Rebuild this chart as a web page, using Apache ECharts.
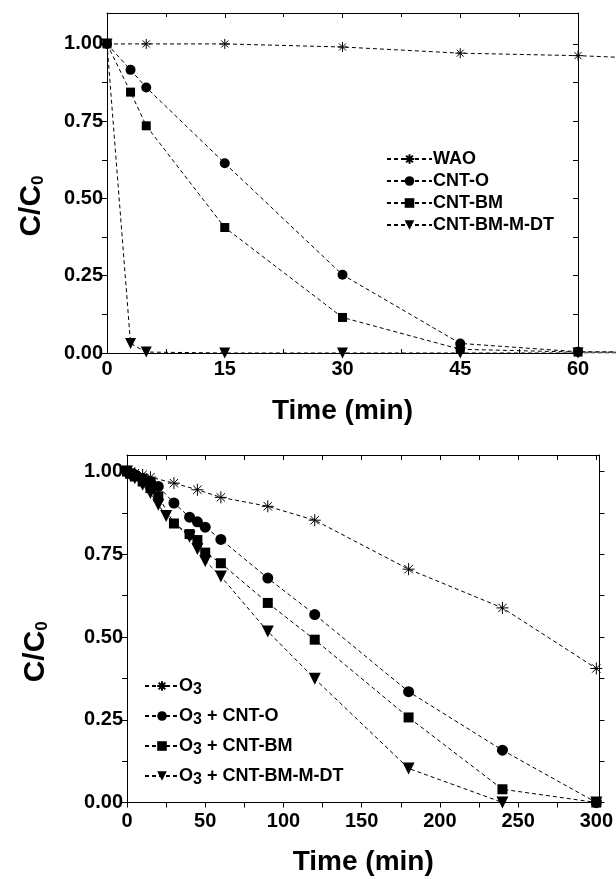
<!DOCTYPE html>
<html><head><meta charset="utf-8">
<script src="https://cdn.jsdelivr.net/npm/echarts@6/dist/echarts.min.js"></script>
<style>html,body{margin:0;padding:0;background:#fff}#c{width:616px;height:879px}</style>
</head><body><div id="c"></div>
<script>
// ---- Top panel (WAO vs catalysts) ----
const topNames = ['WAO', 'CNT-O', 'CNT-BM', 'CNT-BM-M-DT'];
const waoT  = [0, 5, 15, 30, 45, 60, 120];
const waoV  = [1.00, 1.00, 1.00, 0.99, 0.97, 0.962, 0.90];
const cntOT = [0, 3, 5, 15, 30, 45, 60, 120];
const cntOV = [1.00, 0.916, 0.859, 0.614, 0.253, 0.031, 0.004, 0.0];
const cntBMT = [0, 3, 5, 15, 30, 45, 60, 120];
const cntBMV = [1.00, 0.844, 0.735, 0.406, 0.115, 0.012, 0.003, 0.0];
const dtT = [0, 3, 5, 15, 30, 45, 60, 120];
const dtV = [1.00, 0.031, 0.003, 0.0, 0.0, 0.0, 0.0, 0.0];

// ---- Bottom panel (ozonation) ----
const botNames = ['O3', 'O3 + CNT-O', 'O3 + CNT-BM', 'O3 + CNT-BM-M-DT'];
const o3T = [0, 2, 5, 10, 15, 30, 45, 60, 90, 120, 180, 240, 300];
const o3V = [1.00, 0.998, 0.995, 0.99, 0.983, 0.965, 0.945, 0.922, 0.895, 0.853, 0.705, 0.588, 0.405];
const o3OT = [0, 2, 5, 10, 15, 20, 30, 40, 45, 50, 60, 90, 120, 180, 240, 300];
const o3OV = [1.00, 0.995, 0.99, 0.98, 0.97, 0.955, 0.905, 0.862, 0.848, 0.832, 0.795, 0.678, 0.568, 0.335, 0.158, 0.0];
const o3BMT = [0, 2, 5, 10, 15, 20, 30, 40, 45, 50, 60, 90, 120, 180, 240, 300];
const o3BMV = [1.00, 0.993, 0.985, 0.97, 0.95, 0.925, 0.843, 0.811, 0.793, 0.755, 0.723, 0.603, 0.492, 0.257, 0.04, 0.0];
const o3DTT = [0, 2, 5, 10, 15, 20, 25, 40, 45, 50, 60, 90, 120, 180, 240, 300];
const o3DTV = [1.00, 0.99, 0.98, 0.96, 0.935, 0.9, 0.866, 0.803, 0.766, 0.73, 0.683, 0.517, 0.374, 0.103, 0.0, 0.0];

const yTickLabels = [0, 0.25, 0.5, 0.75, 1.0];
const yTicksAll = [0, 0.125, 0.25, 0.375, 0.5, 0.625, 0.75, 0.875, 1.0];
const xBotLabels = [0, 50, 100, 150, 200, 250, 300];
const xBotTicks = [0, 25, 50, 75, 100, 125, 150, 175, 200, 225, 250, 275, 300];

const FONT = 'Liberation Sans';
const STAR = 'path://M0,10L20,10M10,0L10,20M3,3L17,17M17,3L3,17';
const pairs = (t, v) => t.map((x, i) => [x, v[i]]);

// geometry of top panel: frame spans 0..60 min; data layer extends to the page edge
const TOP_L = 107, TOP_W = 471, PAGE_W = 616;
const TOP_XMAX = 60, TOP_XMAX_EXT = TOP_XMAX * (PAGE_W - TOP_L) / TOP_W;

const lineStyle = { color: '#000', width: 1, type: [4, 3] };
function mk(name, t, v, sym, size, xi, yi) {
  const s = {
    name, type: 'line', xAxisIndex: xi, yAxisIndex: yi,
    data: pairs(t, v), symbol: sym, symbolSize: size,
    lineStyle, itemStyle: { color: '#000' }, animation: false, z: 3
  };
  if (sym === STAR) s.itemStyle = { color: 'transparent', borderColor: '#000', borderWidth: 1 };
  if (sym === 'triangle') s.symbolRotate = 180;
  return s;
}

const axisLine = { show: true, onZero: false, lineStyle: { color: '#000', width: 1 } };
const lblStyle = { color: '#000', fontFamily: FONT, fontWeight: 'bold', fontSize: 20 };
const nameStyle = { color: '#000', fontFamily: FONT, fontWeight: 'bold', fontSize: 28 };
const yName = {
  padding: [0, 46, 0, 0], rich: {
    c: { fontFamily: FONT, fontWeight: 'bold', fontSize: 30, color: '#000' },
    s: { fontFamily: FONT, fontWeight: 'bold', fontSize: 17, color: '#000', padding: [12, 0, 0, 0] } } };

const chart = echarts.init(document.getElementById('c'), null, { renderer: 'canvas' });
chart.setOption({
  backgroundColor: '#fff',
  animation: false,
  grid: [
    { left: TOP_L, top: 13, width: TOP_W, height: 340 },
    { left: 127, top: 455, width: 473, height: 347.5 },
    { left: TOP_L, top: 13, width: PAGE_W - TOP_L, height: 340 }
  ],
  xAxis: [
    { gridIndex: 0, type: 'value', min: 0, max: TOP_XMAX, interval: 15, position: 'bottom',
      axisLine, splitLine: { show: false },
      axisTick: { inside: true, length: 5, lineStyle: { color: '#000' } },
      minorTick: { show: true, splitNumber: 2, length: 4, lineStyle: { color: '#000' } },
      axisLabel: Object.assign({ margin: 6 }, lblStyle),
      name: 'Time (min)', nameLocation: 'middle', nameGap: 44, nameTextStyle: nameStyle },
    { gridIndex: 0, type: 'value', min: 0, max: TOP_XMAX, interval: 15, position: 'top',
      axisLine, splitLine: { show: false }, axisLabel: { show: false },
      axisTick: { inside: true, length: 5, lineStyle: { color: '#000' } },
      minorTick: { show: true, splitNumber: 2, length: 4, lineStyle: { color: '#000' } } },
    { gridIndex: 1, type: 'value', min: 0, max: 302, position: 'bottom',
      axisLine, splitLine: { show: false },
      axisTick: { inside: false, length: 5, customValues: xBotTicks, lineStyle: { color: '#000' } },
      axisLabel: Object.assign({ margin: 9, customValues: xBotLabels }, lblStyle),
      name: 'Time (min)', nameLocation: 'middle', nameGap: 46, nameTextStyle: nameStyle },
    { gridIndex: 1, type: 'value', min: 0, max: 302, position: 'top',
      axisLine, splitLine: { show: false }, axisLabel: { show: false },
      axisTick: { inside: true, length: 5, customValues: xBotTicks, lineStyle: { color: '#000' } } },
    { gridIndex: 2, type: 'value', min: 0, max: TOP_XMAX_EXT, show: false }
  ],
  yAxis: [
    { gridIndex: 0, type: 'value', min: 0, max: 1.1, position: 'left',
      axisLine, splitLine: { show: false },
      axisTick: { inside: false, length: 5, customValues: yTicksAll, lineStyle: { color: '#000' } },
      axisLabel: Object.assign({ margin: 4, customValues: yTickLabels, formatter: v => v.toFixed(2) }, lblStyle),
      name: '{c|C/C}{s|0}', nameLocation: 'middle', nameGap: 60, nameRotate: 90, nameTextStyle: yName },
    { gridIndex: 0, type: 'value', min: 0, max: 1.1, position: 'right',
      axisLine, splitLine: { show: false }, axisLabel: { show: false },
      axisTick: { inside: true, length: 5, customValues: yTicksAll, lineStyle: { color: '#000' } } },
    { gridIndex: 1, type: 'value', min: 0, max: 1.05, position: 'left',
      axisLine, splitLine: { show: false },
      axisTick: { inside: false, length: 5, customValues: yTicksAll, lineStyle: { color: '#000' } },
      axisLabel: Object.assign({ margin: 4, customValues: yTickLabels, formatter: v => v.toFixed(2) }, lblStyle),
      name: '{c|C/C}{s|0}', nameLocation: 'middle', nameGap: 76, nameRotate: 90, nameTextStyle: yName },
    { gridIndex: 1, type: 'value', min: 0, max: 1.05, position: 'right',
      axisLine, splitLine: { show: false }, axisLabel: { show: false },
      axisTick: { inside: false, length: 5, customValues: yTicksAll, lineStyle: { color: '#000' } } },
    { gridIndex: 2, type: 'value', min: 0, max: 1.1, show: false }
  ],
  legend: [
    { data: topNames, orient: 'vertical', left: 381, top: 145, itemWidth: 45, itemHeight: 12, itemGap: 4,
      textStyle: { color: '#000', fontFamily: FONT, fontWeight: 'bold', fontSize: 18, padding: [0, 0, 0, -4] } },
    { data: botNames, orient: 'vertical', left: 139, top: 672, itemWidth: 34, itemHeight: 12, itemGap: 9,
      formatter: n => '{n|O}{s|3}{n|' + n.slice(2) + '}',
      textStyle: { color: '#000', padding: [0, 0, 0, -5], rich: {
        n: { fontFamily: FONT, fontWeight: 'bold', fontSize: 18, color: '#000' },
        s: { fontFamily: FONT, fontWeight: 'bold', fontSize: 16, color: '#000', padding: [8, 0, 0, 0] } } } }
  ],
  series: [
    mk('WAO', waoT, waoV, STAR, 10, 4, 4),
    mk('CNT-O', cntOT, cntOV, 'circle', 10, 4, 4),
    mk('CNT-BM', cntBMT, cntBMV, 'rect', 9, 4, 4),
    mk('CNT-BM-M-DT', dtT, dtV, 'triangle', 11, 4, 4),
    mk('O3', o3T, o3V, STAR, 12, 2, 2),
    mk('O3 + CNT-O', o3OT, o3OV, 'circle', 11, 2, 2),
    mk('O3 + CNT-BM', o3BMT, o3BMV, 'rect', 10, 2, 2),
    mk('O3 + CNT-BM-M-DT', o3DTT, o3DTV, 'triangle', 12, 2, 2)
  ]
});
</script></body></html>
